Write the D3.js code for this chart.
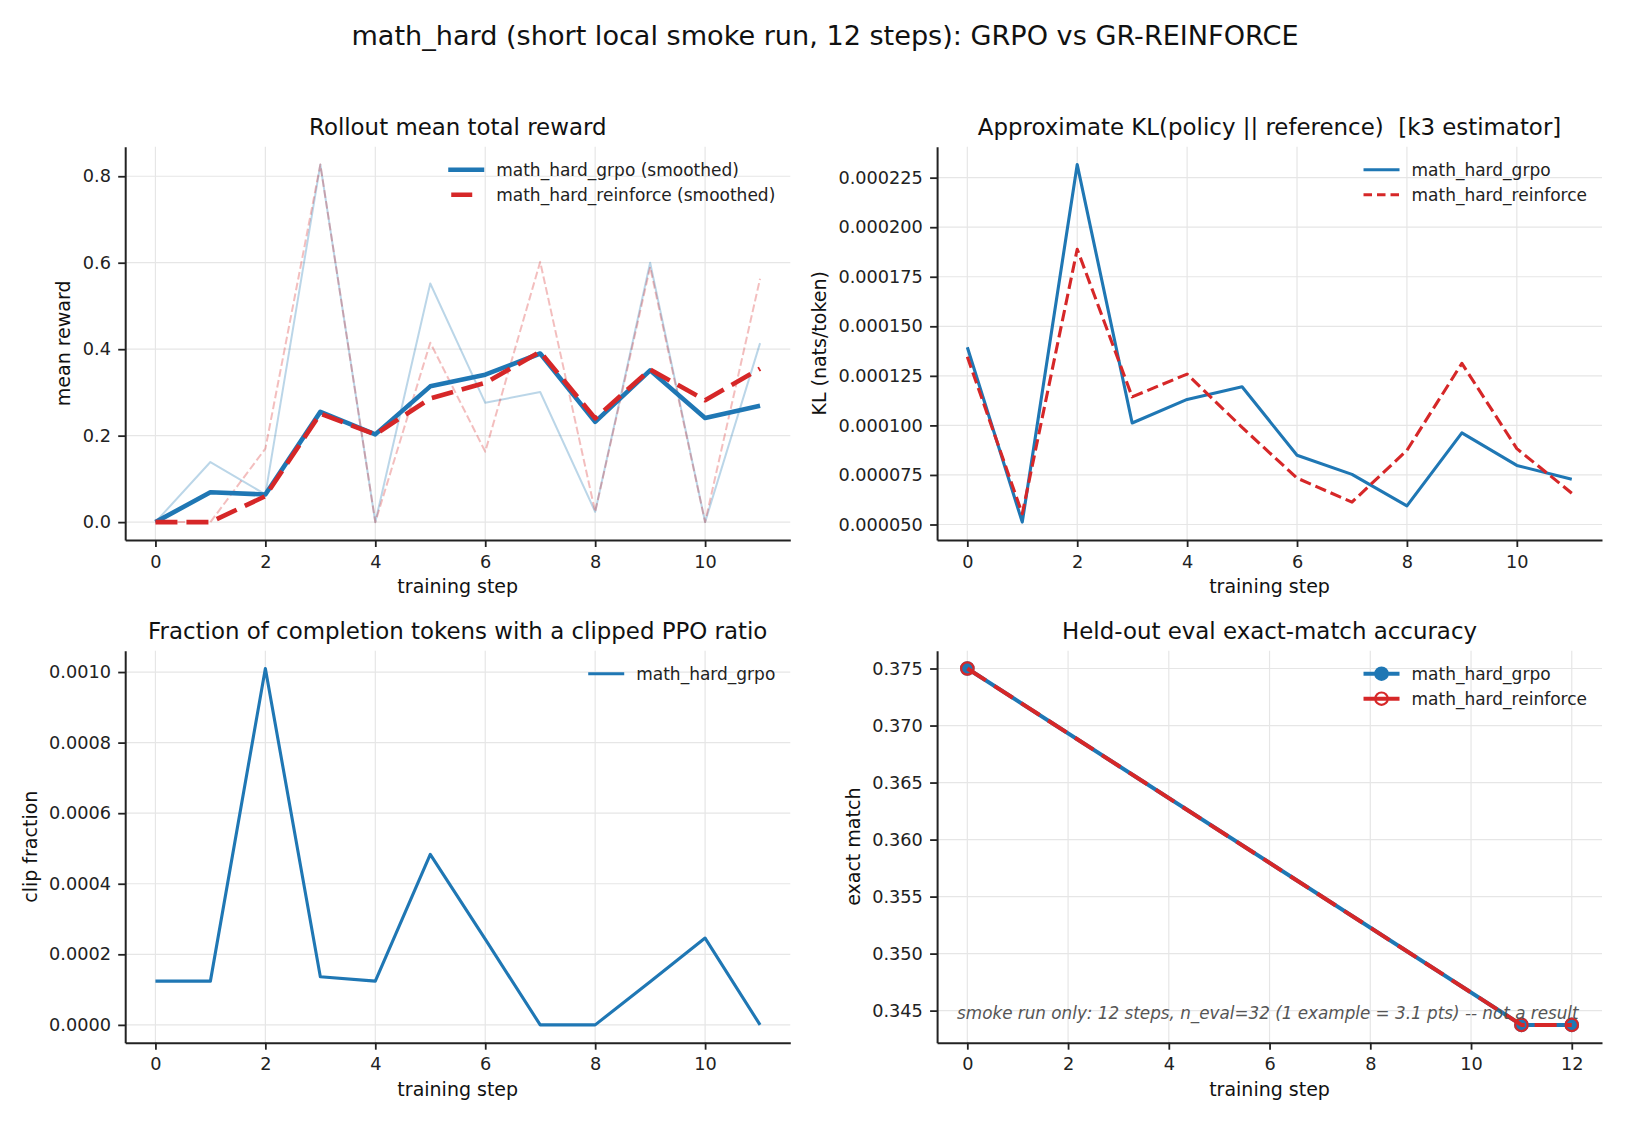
<!DOCTYPE html>
<html lang="en">
<head>
<meta charset="utf-8">
<title>math_hard smoke run: GRPO vs GR-REINFORCE</title>
<script src="https://cdn.jsdelivr.net/npm/d3@7"></script>
<style>
  body { margin: 0; background: #fff; }
  svg { font-family: "DejaVu Sans", sans-serif; }
</style>
</head>
<body>
<script>
// values
var steps = [0, 1, 2, 3, 4, 5, 6, 7, 8, 9, 10, 11];
var stepTicks = [0, 2, 4, 6, 8, 10];

var rewardGrpoRaw = [0, 0.139, 0.064, 0.827, 0, 0.552, 0.276, 0.301, 0.024, 0.600, 0, 0.414];
var rewardReinforceRaw = [0, 0, 0.170, 0.827, 0, 0.415, 0.163, 0.602, 0.024, 0.590, 0, 0.563];
var rewardGrpoSmooth = [0, 0.069, 0.064, 0.255, 0.203, 0.314, 0.341, 0.390, 0.232, 0.351, 0.241, 0.269];
var rewardReinforceSmooth = [0, 0, 0.060, 0.251, 0.203, 0.286, 0.322, 0.394, 0.240, 0.353, 0.282, 0.355];
var rewardTicks = [0, 0.2, 0.4, 0.6, 0.8];

var klGrpo = [0.0001394, 0.0000512, 0.0002316, 0.0001012, 0.0001131, 0.0001195, 0.0000849, 0.0000753, 0.0000594, 0.0000962, 0.0000798, 0.0000728];
var klReinforce = [0.0001346, 0.0000554, 0.0001889, 0.0001144, 0.0001259, 0.0000990, 0.0000734, 0.0000613, 0.0000874, 0.0001313, 0.0000883, 0.0000658];
var klTicks = [0.00005, 0.000075, 0.0001, 0.000125, 0.00015, 0.000175, 0.0002, 0.000225];

var clipGrpo = [0.000124, 0.000124, 0.00101, 0.0001365, 0.000124, 0.000483, 0.000243, 0, 0, 0.000122, 0.000246, 0];
var clipTicks = [0, 0.0002, 0.0004, 0.0006, 0.0008, 0.001];

var evalSteps = [0, 11, 12];
var evalGrpo = [0.375, 0.34375, 0.34375];
var evalReinforce = [0.375, 0.34375, 0.34375];
var evalStepTicks = [0, 2, 4, 6, 8, 10, 12];
var evalTicks = [0.345, 0.35, 0.355, 0.36, 0.365, 0.37, 0.375];

var blue = "#1f77b4", red = "#d62728", ink = "#222";
var tickFont = 17.7, labelFont = 19, titleFont = 22.9, legendFont = 17;

var svg = d3.select("body").append("svg")
  .attr("width", 1650)
  .attr("height", 1125);

svg.append("text")
  .attr("x", 825).attr("y", 45)
  .attr("text-anchor", "middle")
  .attr("font-size", 27.1)
  .attr("fill", "#111")
  .text("math_hard (short local smoke run, 12 steps): GRPO vs GR-REINFORCE");

// matplotlib style 5% margins
function padDomain(vals) {
  var ext = d3.extent(vals);
  var m = (ext[1] - ext[0]) * 0.05;
  return [ext[0] - m, ext[1] + m];
}

function panel(p) {
  var w = p.right - p.left, h = p.bottom - p.top;
  var g = svg.append("g").attr("transform", "translate(" + p.left + "," + p.top + ")");
  var x = d3.scaleLinear().domain(padDomain(p.xs)).range([0, w]);
  var y = d3.scaleLinear().domain(padDomain(p.ys)).range([h, 0]);

  var grid = g.append("g");
  grid.selectAll("line.gx").data(p.xTicks).enter().append("line")
    .attr("x1", function(d) { return x(d); })
    .attr("x2", function(d) { return x(d); })
    .attr("y1", 0).attr("y2", h)
    .attr("stroke", "#e6e6e6").attr("stroke-width", 1.2);
  grid.selectAll("line.gy").data(p.yTicks).enter().append("line")
    .attr("y1", function(d) { return y(d); })
    .attr("y2", function(d) { return y(d); })
    .attr("x1", 0).attr("x2", w)
    .attr("stroke", "#e6e6e6").attr("stroke-width", 1.2);

  var layer = g.append("g");

  var xa = g.append("g").attr("transform", "translate(0," + h + ")")
    .call(d3.axisBottom(x).tickValues(p.xTicks).tickFormat(d3.format("d"))
      .tickSize(7).tickSizeOuter(0).tickPadding(8));
  var ya = g.append("g")
    .call(d3.axisLeft(y).tickValues(p.yTicks).tickFormat(d3.format(p.yFmt))
      .tickSize(7).tickSizeOuter(0).tickPadding(7.3));
  [xa, ya].forEach(function(a) {
    a.attr("font-family", null).attr("font-size", tickFont);
    a.select(".domain").attr("stroke", ink).attr("stroke-width", 2);
    a.selectAll(".tick line").attr("stroke", ink).attr("stroke-width", 1.8);
    a.selectAll(".tick text").attr("fill", ink);
  });

  var maxW = d3.max(ya.selectAll(".tick text").nodes(), function(n) { return n.getComputedTextLength(); });
  g.append("text")
    .attr("transform", "translate(" + (-14.3 - maxW - 12.5) + "," + (h / 2) + ") rotate(-90)")
    .attr("text-anchor", "middle")
    .attr("font-size", labelFont).attr("fill", "#111")
    .text(p.ylabel);
  g.append("text")
    .attr("x", w / 2).attr("y", h + 53)
    .attr("text-anchor", "middle")
    .attr("font-size", labelFont).attr("fill", "#111")
    .text("training step");
  g.append("text")
    .attr("x", w / 2).attr("y", -12)
    .attr("text-anchor", "middle")
    .attr("font-size", titleFont).attr("fill", "#111")
    .style("white-space", "pre")
    .text(p.title);

  return {g: g, layer: layer, x: x, y: y, w: w, h: h};
}

function drawLine(pn, xs, ys, color, width, dash, opacity) {
  var line = d3.line()
    .x(function(d) { return pn.x(d[0]); })
    .y(function(d) { return pn.y(d[1]); });
  pn.layer.append("path")
    .datum(d3.zip(xs, ys))
    .attr("d", line)
    .attr("fill", "none")
    .attr("stroke", color)
    .attr("stroke-width", width)
    .attr("stroke-opacity", opacity == null ? 1 : opacity)
    .attr("stroke-dasharray", dash)
    .attr("stroke-linejoin", "round");
}

function drawMarkers(pn, xs, ys, color, filled) {
  pn.layer.append("g").selectAll("circle").data(d3.zip(xs, ys)).enter().append("circle")
    .attr("cx", function(d) { return pn.x(d[0]); })
    .attr("cy", function(d) { return pn.y(d[1]); })
    .attr("r", 6.2)
    .attr("fill", filled ? color : "none")
    .attr("stroke", color)
    .attr("stroke-width", 2.2);
}

function legend(pn, items) {
  var lg = pn.g.append("g");
  var texts = items.map(function(it, i) {
    return lg.append("text")
      .attr("y", 23 + 25 * i).attr("dy", "0.35em")
      .attr("font-size", legendFont).attr("fill", "#222")
      .text(it.label);
  });
  var maxW = d3.max(texts, function(t) { return t.node().getComputedTextLength(); });
  var tx = pn.w - 15 - maxW;
  texts.forEach(function(t) { t.attr("x", tx); });
  items.forEach(function(it, i) {
    var yy = 23 + 25 * i;
    lg.append("line")
      .attr("x1", tx - 48).attr("x2", tx - 12)
      .attr("y1", yy).attr("y2", yy)
      .attr("stroke", it.color).attr("stroke-width", it.width)
      .attr("stroke-dasharray", it.dash);
    if (it.marker) {
      lg.append("circle")
        .attr("cx", tx - 30).attr("cy", yy).attr("r", 6.2)
        .attr("fill", it.marker == "filled" ? it.color : "none")
        .attr("stroke", it.color).attr("stroke-width", 2.2);
    }
  });
}

// top left: reward
var p1 = panel({left: 125.2, right: 790.3, top: 146.7, bottom: 540,
  xs: steps, ys: rewardGrpoRaw.concat(rewardReinforceRaw),
  xTicks: stepTicks, yTicks: rewardTicks, yFmt: ".1f",
  title: "Rollout mean total reward", ylabel: "mean reward"});
drawLine(p1, steps, rewardGrpoRaw, blue, 2, null, 0.3);
drawLine(p1, steps, rewardReinforceRaw, red, 2, "7.7,3.3", 0.3);
drawLine(p1, steps, rewardGrpoSmooth, blue, 4.6, null);
drawLine(p1, steps, rewardReinforceSmooth, red, 4.6, "22,9");
legend(p1, [
  {label: "math_hard_grpo (smoothed)", color: blue, width: 4.6},
  {label: "math_hard_reinforce (smoothed)", color: red, width: 4.6, dash: "0,3,21,40"}
]);

// top right: KL
var p2 = panel({left: 937.1, right: 1602, top: 146.7, bottom: 540,
  xs: steps, ys: klGrpo.concat(klReinforce),
  xTicks: stepTicks, yTicks: klTicks, yFmt: ".6f",
  title: "Approximate KL(policy || reference)  [k3 estimator]", ylabel: "KL (nats/token)"});
drawLine(p2, steps, klGrpo, blue, 3.1, null);
drawLine(p2, steps, klReinforce, red, 3.1, "11.5,5");
legend(p2, [
  {label: "math_hard_grpo", color: blue, width: 3.1},
  {label: "math_hard_reinforce", color: red, width: 3.1, dash: "8.5,5"}
]);

// bottom left: clip fraction
var p3 = panel({left: 125.2, right: 790.3, top: 650.7, bottom: 1042.7,
  xs: steps, ys: clipGrpo,
  xTicks: stepTicks, yTicks: clipTicks, yFmt: ".4f",
  title: "Fraction of completion tokens with a clipped PPO ratio", ylabel: "clip fraction"});
drawLine(p3, steps, clipGrpo, blue, 3.1, null);
legend(p3, [{label: "math_hard_grpo", color: blue, width: 3.1}]);

// bottom right: eval accuracy
var p4 = panel({left: 937.1, right: 1602, top: 650.7, bottom: 1042.7,
  xs: evalSteps, ys: evalGrpo.concat(evalReinforce),
  xTicks: evalStepTicks, yTicks: evalTicks, yFmt: ".3f",
  title: "Held-out eval exact-match accuracy", ylabel: "exact match"});
drawLine(p4, evalSteps, evalGrpo, blue, 4, null);
drawMarkers(p4, evalSteps, evalGrpo, blue, true);
drawLine(p4, evalSteps, evalReinforce, red, 4, "22,10");
drawMarkers(p4, evalSteps, evalReinforce, red, false);
legend(p4, [
  {label: "math_hard_grpo", color: blue, width: 4, marker: "filled"},
  {label: "math_hard_reinforce", color: red, width: 4, marker: "open"}
]);
p4.g.append("text")
  .attr("x", 20).attr("y", p4.h - 24)
  .attr("font-size", 16.8).attr("font-style", "italic")
  .attr("fill", "#555")
  .text("smoke run only: 12 steps, n_eval=32 (1 example = 3.1 pts) -- not a result");
</script>
</body>
</html>
